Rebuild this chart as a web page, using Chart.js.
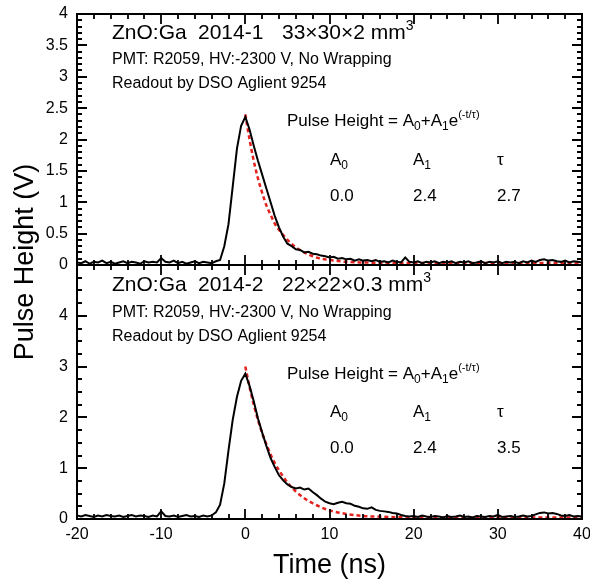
<!DOCTYPE html>
<html>
<head>
<meta charset="utf-8">
<script src="https://cdn.jsdelivr.net/npm/chart.js@4/dist/chart.umd.min.js"></script>
<style>
  body { margin: 0; background: #fff; }
  #wrap { width: 590px; height: 580px; }
</style>
</head>
<body>
<div id="wrap"><canvas id="pulseChart" width="590" height="580"></canvas></div>
<script>
// time axis of the scope trace, -20..40 ns every 0.5 ns
var times = Array.from({ length: 121 }, (_, i) => -20 + i * 0.5);

// ZnO:Ga 2014-1 (top panel), measured pulse (V)
var topTrace = [
  0.04, 0.03, 0.06, 0.02, 0.05, 0.04, 0.07, 0.03, 0.05, 0.02,
  0.04, 0.06, 0.03, 0.05, 0.04, 0.02, 0.06, 0.04, 0.05, 0.04,
  0.11, 0.05, 0.04, 0.07, 0.03, 0.05, 0.02, 0.04, 0.06, 0.03,
  0.05, 0.04, 0.03, 0.06,
  0.08, 0.30, 0.65, 1.25, 1.85, 2.22, 2.36, 2.16, 1.90, 1.66,
  1.44, 1.22, 1.00, 0.78, 0.60, 0.45, 0.34, 0.30, 0.25, 0.24,
  0.20, 0.21, 0.18, 0.17, 0.15, 0.14, 0.12, 0.13, 0.10, 0.11,
  0.09, 0.10, 0.07, 0.09, 0.07, 0.08,
  0.06, 0.08, 0.05, 0.06, 0.04, 0.07, 0.05, 0.04, 0.12, 0.05,
  0.04, 0.06, 0.03, 0.05, 0.04, 0.06, 0.03, 0.05, 0.04, 0.06,
  0.03, 0.05, 0.04, 0.06, 0.03, 0.04, 0.06, 0.03, 0.05, 0.04,
  0.06, 0.03, 0.05, 0.04, 0.05, 0.03, 0.06, 0.04, 0.07, 0.05,
  0.08, 0.09, 0.07, 0.08, 0.06, 0.05, 0.07, 0.04, 0.06, 0.05,
  0.04,
];

// ZnO:Ga 2014-2 (bottom panel), measured pulse (V)
var botTrace = [
  0.07, 0.05, 0.08, 0.06, 0.04, 0.07, 0.05, 0.08, 0.06, 0.05,
  0.07, 0.04, 0.06, 0.08, 0.05, 0.07, 0.06, 0.04, 0.07, 0.05,
  0.15, 0.06, 0.05, 0.07, 0.04, 0.06, 0.08, 0.05, 0.06, 0.04,
  0.07, 0.05,
  0.07, 0.13, 0.28, 0.70, 1.35, 1.95, 2.40, 2.72, 2.86, 2.62,
  2.32, 1.98, 1.70, 1.44, 1.20, 1.02, 0.86, 0.76, 0.68, 0.63,
  0.60, 0.62, 0.58, 0.60, 0.53, 0.47, 0.40, 0.34, 0.31, 0.29,
  0.32, 0.34, 0.31, 0.30, 0.26, 0.24, 0.21, 0.20, 0.23, 0.18,
  0.16, 0.15, 0.14, 0.12, 0.11, 0.08, 0.06,
  0.05, 0.06, 0.04, 0.07, 0.05, 0.04, 0.06, 0.05, 0.03, 0.06,
  0.04, 0.05, 0.07, 0.04, 0.05, 0.03, 0.06, 0.05, 0.04, 0.06,
  0.05, 0.08, 0.04, 0.05, 0.06, 0.04, 0.05, 0.07, 0.05, 0.06,
  0.09, 0.12, 0.13, 0.11, 0.12, 0.10, 0.07, 0.06, 0.08, 0.05,
  0.06, 0.05,
];

// exponential fits (red dashed)
var fitTimes = [0, 0.5, 1, 1.5, 2, 2.5, 3, 3.5, 4, 5, 6, 7, 8, 9, 10, 12, 14, 16, 18, 20, 25, 30, 35, 40];
var topFit = [2.4, 2.0, 1.66, 1.38, 1.15, 0.95, 0.8, 0.66, 0.56, 0.4, 0.28, 0.2, 0.14, 0.1, 0.08, 0.05, 0.04, 0.035, 0.03, 0.03, 0.03, 0.03, 0.03, 0.03];
var botFit = [3.0, 2.6, 2.25, 1.95, 1.69, 1.47, 1.27, 1.1, 0.96, 0.72, 0.54, 0.41, 0.31, 0.23, 0.17, 0.1, 0.06, 0.045, 0.035, 0.03, 0.03, 0.03, 0.03, 0.03];

// fit parameters shown in each panel
var paramNames = ["A0", "A1", "τ"];
var topParams = ["0.0", "2.4", "2.7"];
var botParams = ["0.0", "2.4", "3.5"];

// tick positions (ns)
var xMinorTicks = [-18, -16, -14, -12, -10, -8, -6, -4, -2, 0, 2, 4, 6, 8, 10, 12, 14, 16, 18, 20, 22, 24, 26, 28, 30, 32, 34, 36, 38];
var xMajorStep = 10;

var FONT = '"Liberation Sans", Arial, Helvetica, sans-serif';
Chart.defaults.font.family = FONT;
Chart.defaults.color = "#000";

function pts(xs, ys) {
  return ys.map((y, i) => ({ x: xs[i], y: y }));
}

// draw a run of text pieces: [text, size, dy]
function drawRich(ctx, x, y, pieces) {
  pieces.forEach(function (p) {
    ctx.font = p[1] + "px " + FONT;
    ctx.fillText(p[0], x, y + (p[2] || 0));
    x += ctx.measureText(p[0]).width;
  });
}

function isMajor(v, major) {
  var r = v / major;
  return Math.abs(r - Math.round(r)) < 1e-6;
}

// no auto padding for half labels, fixed box sizes
function fixY(s) {
  s.width = 77;
  s.paddingTop = 0;
  s.paddingBottom = 0;
}

// inward tick marks on all four sides of a panel
function drawPanelTicks(g, x, s, minor, major) {
  var top = s.top, bot = s.bottom, left = x.left, right = x.right;
  g.beginPath();
  xMinorTicks.forEach(function (t) {
    var px = Math.round(x.getPixelForValue(t));
    var len = isMajor(t, xMajorStep) ? 10 : 5;
    g.moveTo(px, top);
    g.lineTo(px, top + len);
    g.moveTo(px, bot);
    g.lineTo(px, bot - len);
  });
  var n = Math.round((s.max - s.min) / minor);
  for (var k = 1; k < n; k++) {
    var v = s.min + k * minor;
    var py = Math.round(s.getPixelForValue(v));
    var len = isMajor(v, major) ? 10 : 5;
    g.moveTo(left, py);
    g.lineTo(left + len, py);
    g.moveTo(right, py);
    g.lineTo(right - len, py);
  }
  g.stroke();
}

// inward ticks, frames, labels
const framePlugin = {
  id: "frames",
  afterDraw(chart) {
    const g = chart.ctx;
    const x = chart.scales.x;
    const panels = [
      { s: chart.scales.yTop, minor: 0.1, major: 0.5, rows: [25, 50, 74, 112, 151, 187],
        id: "2014-1", dims: "33×30×2 mm", params: topParams },
      { s: chart.scales.yBot, minor: 0.25, major: 1, rows: [26, 52, 76, 114, 152, 188],
        id: "2014-2", dims: "22×22×0.3 mm", params: botParams },
    ];
    g.save();
    g.setLineDash([]);
    g.strokeStyle = "#000";
    g.fillStyle = "#000";
    g.lineWidth = 2;
    panels.forEach(function (p) {
      g.strokeRect(x.left, p.s.top, x.right - x.left, p.s.bottom - p.s.top);
    });
    g.lineWidth = 1.8;
    panels.forEach(function (p) {
      drawPanelTicks(g, x, p.s, p.minor, p.major);
    });

    // annotations
    g.textAlign = "left";
    g.textBaseline = "alphabetic";
    panels.forEach(function (p) {
      const L = x.left, T = p.s.top, r = p.rows;
      g.font = "21px " + FONT;
      g.fillText("ZnO:Ga", L + 35, T + r[0]);
      g.fillText(p.id, L + 121, T + r[0]);
      drawRich(g, L + 205, T + r[0], [[p.dims, 21, 0], ["3", 14, -9]]);
      g.font = "16px " + FONT;
      g.fillText("PMT: R2059, HV:-2300 V, No Wrapping", L + 35, T + r[1]);
      g.fillText("Readout by DSO Aglient 9254", L + 35, T + r[2]);
      drawRich(g, L + 210, T + r[3], [
        ["Pulse Height = A", 17, 0], ["0", 12, 4], ["+A", 17, 0], ["1", 12, 4],
        ["e", 17, 0], ["(-t/τ)", 11, -8],
      ]);
      const cols = [L + 253, L + 336, L + 420];
      paramNames.forEach(function (nm, i) {
        if (nm === "τ") {
          drawRich(g, cols[i], T + r[4], [["τ", 17, 0]]);
        } else {
          drawRich(g, cols[i], T + r[4], [[nm[0], 17, 0], [nm[1], 12, 4]]);
        }
        drawRich(g, cols[i], T + r[5], [[p.params[i], 17, 0]]);
      });
    });

    // axis titles
    g.font = "27px " + FONT;
    g.textAlign = "center";
    g.fillText("Time (ns)", (x.left + x.right) / 2, 573);
    g.save();
    g.translate(33, 262);
    g.rotate(-Math.PI / 2);
    g.fillText("Pulse Height (V)", 0, 0);
    g.restore();
    g.restore();
  },
};

const ctx = document.getElementById("pulseChart").getContext("2d");
const pulseChart = new Chart(ctx, {
  type: "line",
  data: {
    datasets: [
      {
        label: "2014-1 trace",
        data: pts(times, topTrace),
        yAxisID: "yTop",
        borderColor: "#000",
        borderWidth: 2,
        pointRadius: 0,
      },
      {
        label: "2014-1 fit",
        data: pts(fitTimes, topFit),
        yAxisID: "yTop",
        borderColor: "#e3211c",
        borderWidth: 2.5,
        borderDash: [4, 3],
        cubicInterpolationMode: "monotone",
        pointRadius: 0,
      },
      {
        label: "2014-2 trace",
        data: pts(times, botTrace),
        yAxisID: "yBot",
        borderColor: "#000",
        borderWidth: 2,
        pointRadius: 0,
      },
      {
        label: "2014-2 fit",
        data: pts(fitTimes, botFit),
        yAxisID: "yBot",
        borderColor: "#e3211c",
        borderWidth: 2.5,
        borderDash: [4, 3],
        cubicInterpolationMode: "monotone",
        pointRadius: 0,
      },
    ],
  },
  options: {
    responsive: false,
    animation: false,
    layout: { padding: { left: 0, right: 8, top: 14, bottom: 0 } },
    plugins: { legend: { display: false }, tooltip: { enabled: false } },
    scales: {
      x: {
        type: "linear",
        min: -20,
        max: 40,
        grid: { display: false, drawTicks: false },
        border: { display: false },
        ticks: { stepSize: 10, font: { size: 16 }, padding: 6, maxRotation: 0 },
        afterFit: (s) => {
          s.height = 61;
          s.paddingLeft = 0;
          s.paddingRight = 0;
        },
      },
      yBot: {
        type: "linear",
        position: "left",
        stack: "panels",
        stackWeight: 254,
        min: 0,
        max: 5,
        grid: { display: false, drawTicks: false },
        border: { display: false },
        ticks: { stepSize: 1, autoSkip: false, font: { size: 16 }, padding: 9,
          callback: (v) => (v === 5 ? "" : String(v)) },
        afterFit: fixY,
      },
      yTop: {
        type: "linear",
        position: "left",
        stack: "panels",
        stackWeight: 251,
        min: 0,
        max: 4,
        grid: { display: false, drawTicks: false },
        border: { display: false },
        ticks: { stepSize: 0.5, autoSkip: false, font: { size: 16 }, padding: 9,
          callback: (v) => String(v) },
        afterFit: fixY,
      },
    },
  },
  plugins: [framePlugin],
});
</script>
</body>
</html>
